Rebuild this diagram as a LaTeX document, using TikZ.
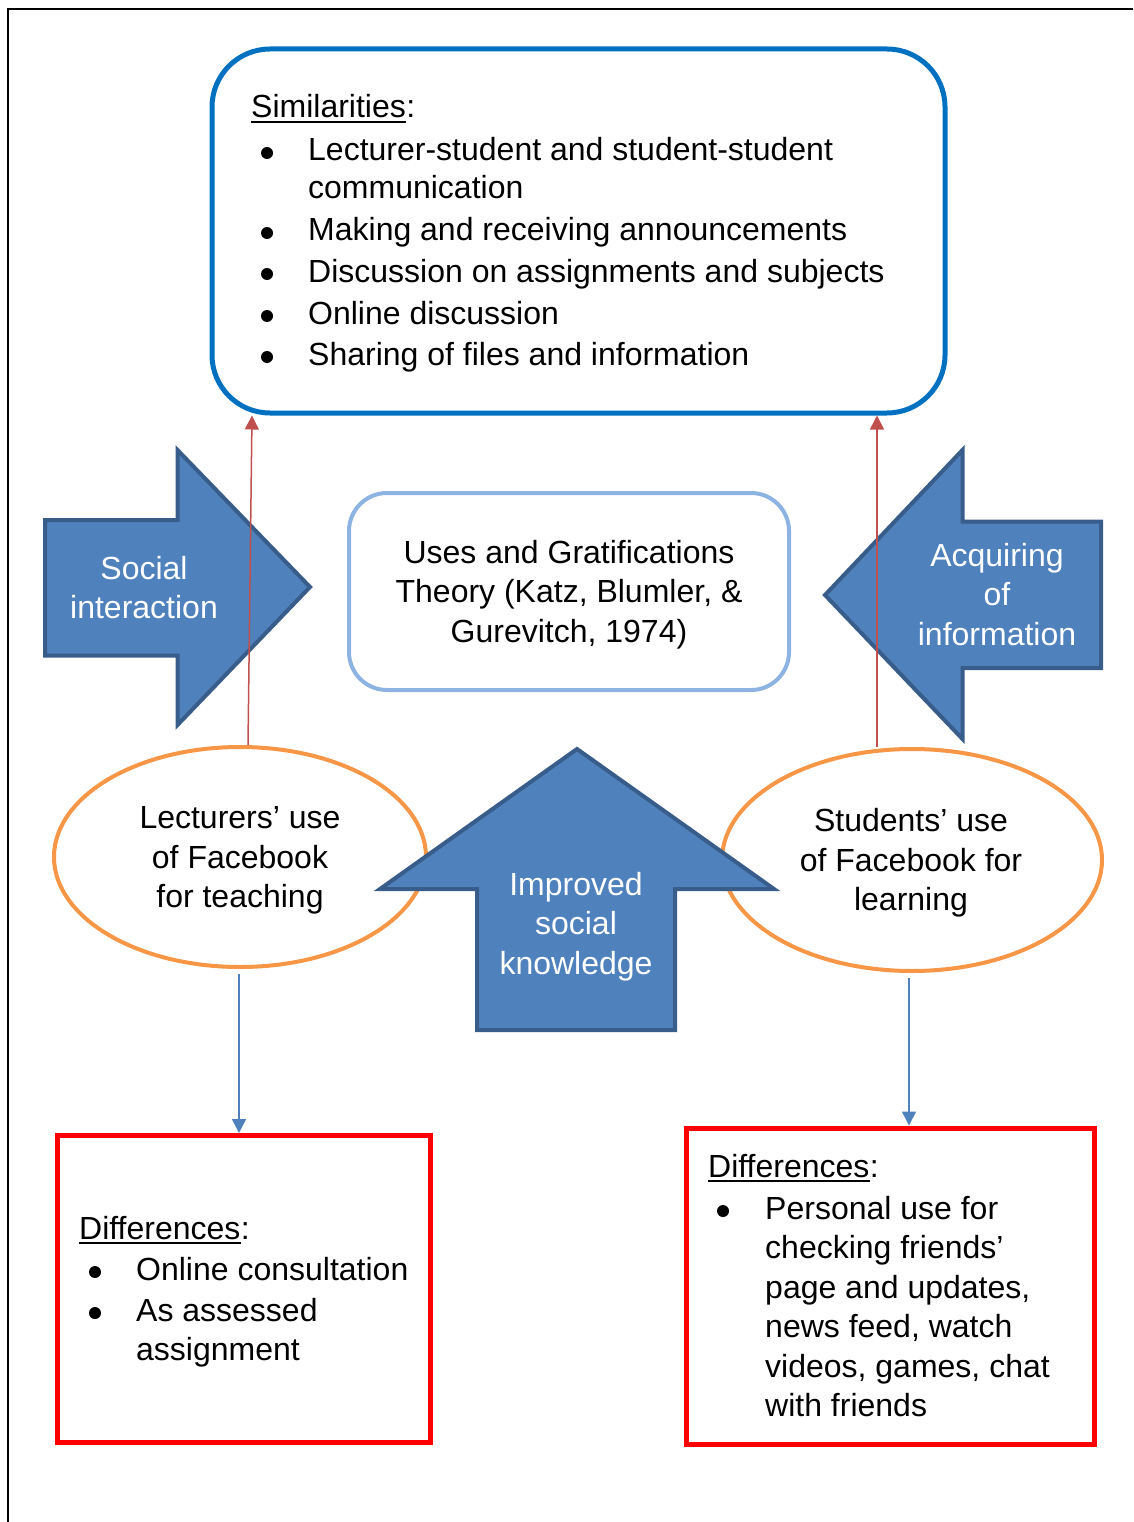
\documentclass[tikz,border=0pt]{standalone}
\usepackage{fontspec}
\setmainfont{Liberation Sans}
\usetikzlibrary{arrows.meta,shapes.geometric}
\definecolor{simblue}{HTML}{0070C0}
\definecolor{theoblue}{HTML}{8DB3E2}
\definecolor{arrfill}{HTML}{4F81BD}
\definecolor{arrline}{HTML}{385D8A}
\definecolor{ellorange}{HTML}{F79646}
\definecolor{linkred}{HTML}{C0504D}
\definecolor{linkblue}{HTML}{4F81BD}
\definecolor{boxred}{HTML}{FF0000}
\begin{document}
\begin{tikzpicture}[x=1pt,y=-1pt,
  txt/.style={inner sep=0pt, font=\fontsize{32}{39}\selectfont},
  lefttxt/.style={txt, anchor=base west},
  midtxt/.style={txt, anchor=base},
  whitetxt/.style={midtxt, text=white},
  bulletdot/.style={circle, fill=black, inner sep=0pt, minimum size=12pt},
  bigarrow/.style={fill=arrfill, draw=arrline, line width=4pt, line join=miter},
  ellbox/.style={ellipse, draw=ellorange, line width=4pt, inner sep=0pt},
  diffbox/.style={rectangle, draw=boxred, line width=5pt, inner sep=0pt},
  redlink/.style={draw=linkred, line width=1.5pt, -{Triangle[length=14pt,width=14pt]}},
  bluelink/.style={draw=linkblue, line width=1.5pt, -{Triangle[length=14pt,width=14pt]}},
]
\useasboundingbox (0,0) rectangle (1133,1522);
% frame
\draw[line width=2pt] (1133,9) -- (8,9) -- (8,1522);

% top box
\node[rectangle, rounded corners=58pt, draw=simblue, line width=5pt,
      minimum width=733pt, minimum height=364pt, inner sep=0pt] (sim) at (578.5,231) {};
% theory box
\node[rectangle, rounded corners=38pt, draw=theoblue, line width=4pt,
      minimum width=440pt, minimum height=197pt, inner sep=0pt] (theo) at (569,591.5) {};

% block arrows
\draw[bigarrow] (45,520) -- (177.5,520) -- (177.5,450) -- (310,587) -- (177.5,725)
      -- (177.5,655.5) -- (45,655.5) -- cycle;
\draw[bigarrow] (1101,521.5) -- (962.5,521.5) -- (962.5,450) -- (825,595) -- (962.5,739)
      -- (962.5,668) -- (1101,668) -- cycle;

% ellipses
\node[ellbox, minimum width=372pt, minimum height=220pt] (lec) at (240,857) {};
\node[ellbox, minimum width=380pt, minimum height=222pt] (stu) at (912,860) {};

% up arrow
\draw[bigarrow] (477,1030) -- (477,889) -- (380,889) -- (577,749) -- (774,889)
      -- (675,889) -- (675,1030) -- cycle;

% difference boxes
\node[diffbox, minimum width=373pt, minimum height=307pt] (lb) at (244,1289) {};
\node[diffbox, minimum width=408pt, minimum height=316pt] (rb) at (890,1286) {};

% connectors
\draw[redlink] ([xshift=8pt]lec.north) -- ([xshift=-326.5pt]sim.south);
\draw[redlink] ([xshift=-35pt]stu.north) -- ([xshift=298.5pt]sim.south);
\draw[bluelink, shorten <=5pt] ([xshift=-1pt]lec.south) -- ([xshift=-1pt]lec.south |- lb.north);
\draw[bluelink, shorten <=5pt] ([xshift=-3pt]stu.south) -- ([xshift=-3pt]stu.south |- rb.north);

% top box text
\node[lefttxt] (simT) at (251,118) {Similarities};
\node[lefttxt] (simC) at (simT.base east) {:};
\draw[line width=2.2pt] ([yshift=-4pt]simT.base west) -- ([yshift=-4pt]simT.base east);
\node[bulletdot] (sb1) at (267,153) {};
\node[lefttxt] (s1a) at (308,161) {Lecturer-student and student-student};
\node[lefttxt] (s1b) at (308,199) {communication};
\node[bulletdot] (sb2) at (267,233) {};
\node[lefttxt] (s2) at (308,241) {Making and receiving announcements};
\node[bulletdot] (sb3) at (267,274) {};
\node[lefttxt] (s3) at (308,282) {Discussion on assignments and subjects};
\node[bulletdot] (sb4) at (267,316) {};
\node[lefttxt] (s4) at (308,324) {Online discussion};
\node[bulletdot] (sb5) at (267,357) {};
\node[lefttxt] (s5) at (308,365) {Sharing of files and information};

% theory text
\node[midtxt] (t1) at (569,563) {Uses and Gratifications};
\node[midtxt] (t2) at (569,602) {Theory (Katz, Blumler, \&};
\node[midtxt] (t3) at (569,642) {Gurevitch, 1974)};

% arrow texts
\node[whitetxt] (a1) at (144,579) {Social};
\node[whitetxt] (a2) at (144,618) {interaction};
\node[whitetxt] (a3) at (997,566) {Acquiring};
\node[whitetxt] (a4) at (997,605) {of};
\node[whitetxt] (a5) at (997,645) {information};
\node[whitetxt] (a6) at (576,895) {Improved};
\node[whitetxt] (a7) at (576,934) {social};
\node[whitetxt] (a8) at (576,974) {knowledge};

% ellipse texts
\node[midtxt] (l1) at (240,828) {Lecturers’ use};
\node[midtxt] (l2) at (240,868) {of Facebook};
\node[midtxt] (l3) at (240,907) {for teaching};
\node[midtxt] (u1) at (911,831) {Students’ use};
\node[midtxt] (u2) at (911,871) {of Facebook for};
\node[midtxt] (u3) at (911,910) {learning};

% left difference text
\node[lefttxt] (dlT) at (79,1239) {Differences};
\node[lefttxt] (dlC) at (dlT.base east) {:};
\draw[line width=2.2pt] ([yshift=-4pt]dlT.base west) -- ([yshift=-4pt]dlT.base east);
\node[bulletdot] (db1) at (95,1272) {};
\node[lefttxt] (d1) at (136,1280) {Online consultation};
\node[bulletdot] (db2) at (95,1313) {};
\node[lefttxt] (d2) at (136,1321) {As assessed};
\node[lefttxt] (d3) at (136,1360) {assignment};

% right difference text
\node[lefttxt] (drT) at (708,1177) {Differences};
\node[lefttxt] (drC) at (drT.base east) {:};
\draw[line width=2.2pt] ([yshift=-4pt]drT.base west) -- ([yshift=-4pt]drT.base east);
\node[bulletdot] (rb1) at (723,1211) {};
\node[lefttxt] (r1) at (765,1219) {Personal use for};
\node[lefttxt] (r2) at (765,1258) {checking friends’};
\node[lefttxt] (r3) at (765,1298) {page and updates,};
\node[lefttxt] (r4) at (765,1337) {news feed, watch};
\node[lefttxt] (r5) at (765,1377) {videos, games, chat};
\node[lefttxt] (r6) at (765,1416) {with friends};
\end{tikzpicture}
\end{document}
